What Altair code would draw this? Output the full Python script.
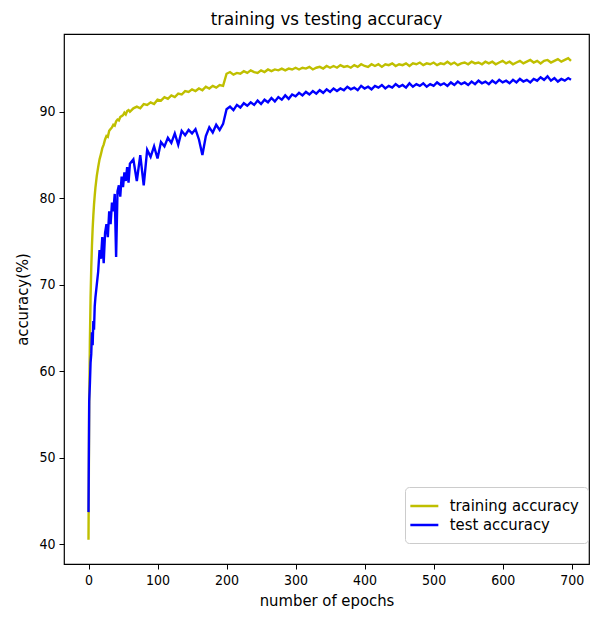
import altair as alt
import pandas as pd

epochs = [0, 1, 2, 3, 4, 5, 6, 7, 8, 9, 10,
          12, 14, 16, 18, 20, 22, 24, 26, 28, 30, 32, 34, 36, 38, 40,
          42, 44, 46, 48, 50, 52, 54, 56, 58, 60,
          65, 70, 75, 80, 85, 90, 95, 100, 105, 110, 115, 120, 125, 130, 135, 140,
          145, 150, 155, 160, 165, 170, 175, 180, 185, 190, 195, 200, 205, 210, 215,
          220, 225, 230, 235, 240, 245, 250, 255, 260, 265, 270, 275, 280, 285, 290,
          295, 300, 305, 310, 315, 320, 325, 330, 335, 340, 345, 350, 355, 360, 365,
          370, 375, 380, 385, 390, 395, 400, 405, 410, 415, 420, 425, 430, 435, 440,
          445, 450, 455, 460, 465, 470, 475, 480, 485, 490, 495, 500, 505, 510, 515,
          520, 525, 530, 535, 540, 545, 550, 555, 560, 565, 570, 575, 580, 585, 590,
          595, 600, 605, 610, 615, 620, 625, 630, 635, 640, 645, 650, 655, 660, 665,
          670, 675, 680, 685, 690, 695, 699]

train_acc = [40.5, 56.0, 63.5, 68.5, 72.0, 74.5, 76.5, 78.0, 79.3, 80.3, 81.2,
             82.6, 83.6, 84.5, 85.1, 85.8, 86.2, 86.8, 87.2, 87.1, 87.8, 88.0, 88.2, 88.5, 88.4, 88.9,
             89.1, 89.0, 89.4, 89.5, 89.6, 89.9, 89.7, 90.1, 90.2, 90.0,
             90.4, 90.6, 90.4, 90.9, 90.8, 91.1, 90.9, 91.4, 91.3, 91.7, 91.5, 91.9, 91.7, 92.1, 92.0, 92.4,
             92.3, 92.6, 92.4, 92.7, 92.5, 92.9, 92.7, 93.0, 92.8, 93.1, 93.0, 94.4, 94.6, 94.3, 94.5,
             94.4, 94.7, 94.5, 94.8, 94.6, 94.5, 94.8, 94.6, 94.9, 94.7, 94.9, 94.8, 95.0, 94.8, 95.0,
             94.9, 95.1, 94.9, 95.1, 95.0, 95.2, 94.9, 95.1, 95.2, 95.0, 95.3, 95.1, 95.3, 95.1, 95.4,
             95.2, 95.3, 95.1, 95.4, 95.2, 95.5, 95.3, 95.2, 95.5, 95.3, 95.5, 95.2, 95.5, 95.4, 95.6,
             95.3, 95.5, 95.4, 95.6, 95.3, 95.6, 95.5, 95.7, 95.4, 95.6, 95.5, 95.7, 95.4, 95.6, 95.5,
             95.8, 95.5, 95.7, 95.4, 95.6, 95.7, 95.5, 95.8, 95.6, 95.7, 95.5, 95.8, 95.6, 95.8, 95.5,
             95.7, 95.9, 95.6, 95.8, 95.5, 95.7, 95.9, 95.6, 95.8, 96.0, 95.7, 95.9, 95.6, 95.9, 96.0,
             95.7, 95.9, 96.1, 95.8, 96.0, 96.2, 95.9]

test_acc = [43.7, 56.5, 58.5, 61.0, 62.0, 64.5, 63.0, 65.8, 64.8, 67.5, 68.5,
            70.0, 71.5, 74.0, 73.0, 75.5, 72.5, 76.0, 77.0, 75.5, 78.5, 77.0, 79.5, 78.5, 80.5, 73.2,
            80.8, 81.5, 80.2, 82.5, 81.3, 83.0, 82.0, 83.6, 81.8, 84.0,
            84.5, 82.0, 85.0, 81.5, 85.6, 84.8, 86.0, 84.6, 86.5, 86.0, 87.0, 86.4, 87.5, 86.2, 87.8, 87.3,
            87.9, 87.5, 88.0, 86.8, 85.0, 87.2, 88.2, 87.6, 88.5, 87.9, 88.6, 90.3, 90.6, 90.2, 90.8,
            90.5, 91.0, 90.7, 91.1, 90.8, 91.3, 90.9, 91.4, 91.1, 91.6, 91.2, 91.7, 91.4, 91.9, 91.5,
            92.0, 91.8, 92.2, 91.9, 92.3, 92.0, 92.4, 92.1, 92.5, 92.2, 92.6, 92.3, 92.7, 92.4, 92.7,
            92.5, 92.9, 92.6, 92.8, 92.5, 93.0, 92.7, 92.9, 92.6, 93.0, 92.8, 93.1, 92.7, 93.0, 92.8,
            93.2, 92.9, 93.1, 92.8, 93.3, 92.9, 93.2, 93.0, 93.3, 92.9, 93.2, 93.0, 93.4, 93.1, 93.3,
            93.0, 93.4, 93.1, 93.5, 93.2, 93.4, 93.1, 93.5, 93.2, 93.6, 93.3, 93.5, 93.2, 93.6, 93.3,
            93.7, 93.4, 93.6, 93.3, 93.7, 93.4, 93.8, 93.5, 93.7, 93.4, 93.8, 93.6, 94.0, 93.7, 94.1,
            93.6, 93.9, 93.5, 93.8, 93.6, 93.9, 93.7]

series_names = ["training accuracy", "test accuracy"]
series_colors = ["#bfbf00", "#0000ff"]

df = pd.concat([
    pd.DataFrame({"epoch": epochs, "acc": train_acc, "series": series_names[0]}),
    pd.DataFrame({"epoch": epochs, "acc": test_acc, "series": series_names[1]}),
])

FONT = "DejaVu Sans Condensed, DejaVu Sans"

chart = alt.Chart(df).mark_line(strokeWidth=2.4).encode(
    x=alt.X("epoch:Q",
            scale=alt.Scale(domain=[-35.5, 725.1], nice=False, zero=False),
            axis=alt.Axis(values=[0, 100, 200, 300, 400, 500, 600, 700],
                          title="number of epochs")),
    y=alt.Y("acc:Q",
            scale=alt.Scale(domain=[37.7, 99.0], nice=False, zero=False),
            axis=alt.Axis(values=[40, 50, 60, 70, 80, 90],
                          title="accuracy(%)")),
    color=alt.Color("series:N",
                    scale=alt.Scale(domain=series_names, range=series_colors),
                    sort=series_names,
                    legend=alt.Legend(title=None, orient="none",
                                      legendX=341, legendY=453,
                                      symbolType="M-1.578,0L1.655,0", symbolSize=300,
                                      symbolStrokeWidth=2.5,
                                      labelFontSize=16.5, labelFont=FONT,
                                      labelColor="black", labelOffset=15.7,
                                      fillColor="white", strokeColor="#cccccc",
                                      cornerRadius=4, padding=9, rowPadding=0)),
    detail="series:N",
).properties(
    width=525, height=530,
    title=alt.TitleParams("training vs testing accuracy", fontSize=18.5,
                          font=FONT, fontWeight="normal", color="black",
                          offset=6),
    padding={"left": 56, "top": 26, "right": 1, "bottom": 56},
    autosize=alt.AutoSizeParams(type="none"),
).configure_view(
    stroke="black", strokeWidth=1.2
).configure_axis(
    grid=False, domain=False, tickColor="black", tickSize=5, tickWidth=1,
    labelFont=FONT, labelFontSize=14, labelColor="black", labelPadding=4,
    titleFont=FONT, titleFontSize=16.5, titleFontWeight="normal", titleColor="black",
).configure_axisX(titlePadding=5).configure_axisY(titlePadding=8)

chart.save("out.html", embed_options={"renderer": "svg", "actions": False})
